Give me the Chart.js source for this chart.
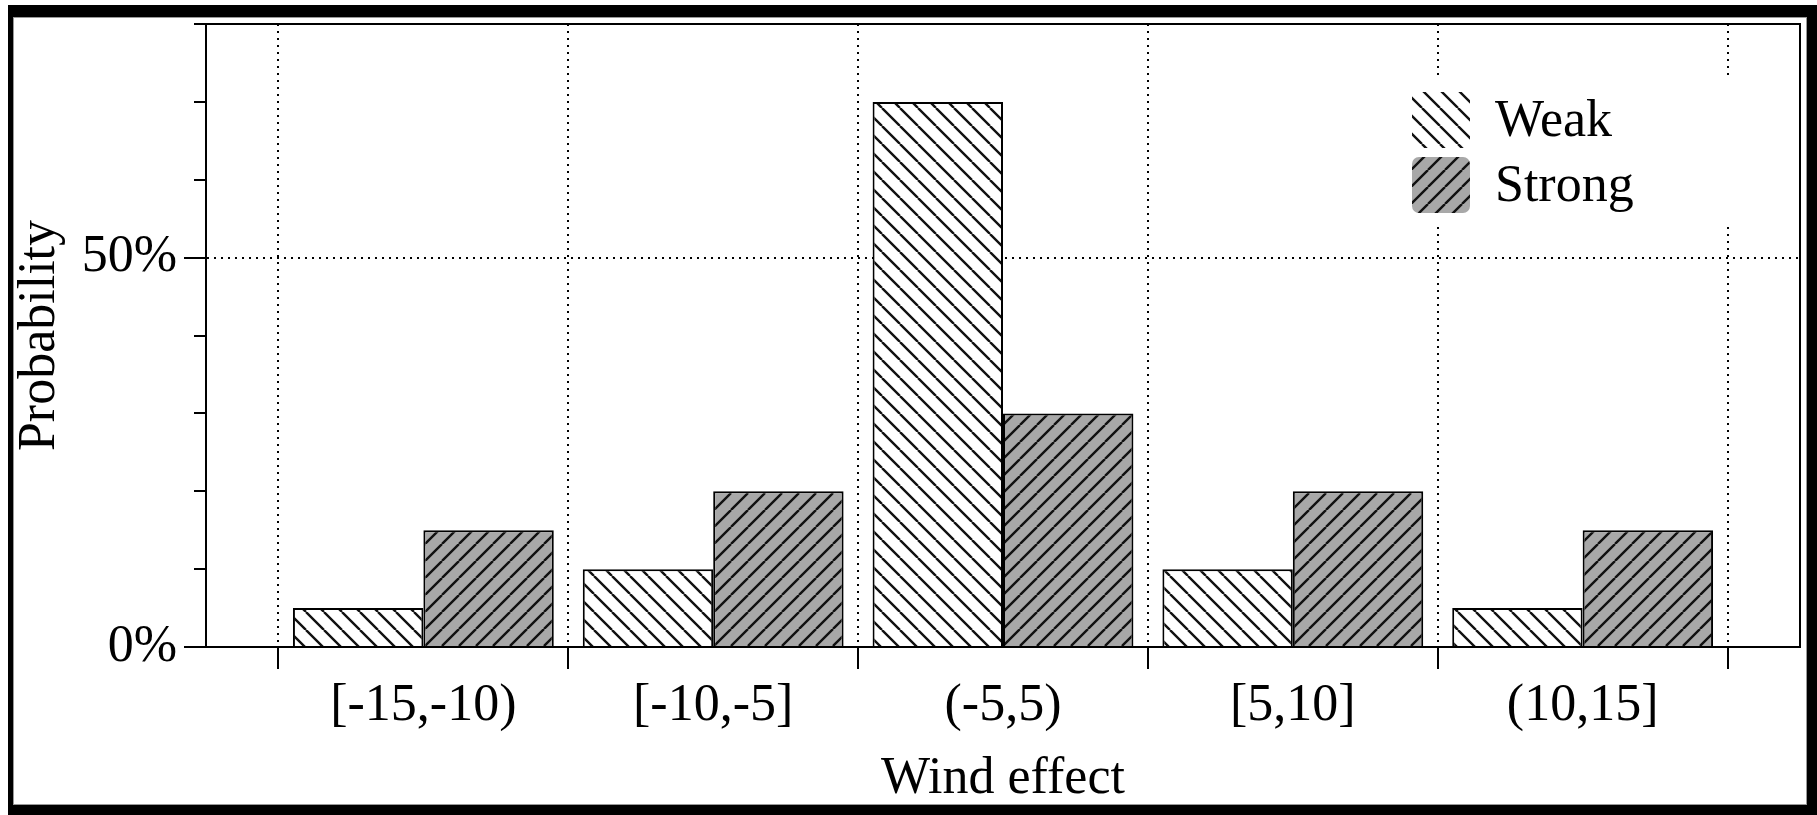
<!DOCTYPE html>
<html>
<head>
<meta charset="utf-8">
<script src="https://cdn.jsdelivr.net/npm/chart.js@4.4.1/dist/chart.umd.min.js"></script>
<style>
  html, body { margin: 0; padding: 0; background: #fff; overflow: hidden; }
  #wrap { position: relative; width: 1817px; height: 815px; }
  #frame {
    position: absolute; left: 8px; top: 5px; width: 1794px; height: 788px;
    border-style: solid; border-color: #000;
    border-width: 12px 10px 10px 5px;
    pointer-events: none;
  }
  #frame > div { position: absolute; inset: 0; border: 1px solid #999; }
</style>
</head>
<body>
<div id="wrap">
  <canvas id="windChart" width="1817" height="815"></canvas>
  <div id="frame"><div></div></div>
</div>
<script>
// chart values
const categories = ["[-15,-10)", "[-10,-5]", "(-5,5)", "[5,10]", "(10,15]"];
const weakValues = [5, 10, 70, 10, 5];
const strongValues = [15, 20, 30, 20, 15];
const seriesNames = ["Weak", "Strong"];
const yLabelled = [0, 50];

const FONT = "'Liberation Serif', 'DejaVu Serif', serif";
Chart.defaults.font.family = FONT;
Chart.defaults.font.size = 52;
Chart.defaults.color = "#000";

// diagonal hatch patterns
function makeHatch(bg, size, dir) {
    let c = document.createElement("canvas");
    c.width = size; c.height = size;
    let g = c.getContext("2d");
    g.fillStyle = bg;
    g.fillRect(0, 0, size, size);
    g.strokeStyle = "#111";
    g.lineWidth = 2.4;
    g.beginPath();
    for (let k = -1; k <= 1; k++) {
        if (dir === "back") {
            g.moveTo(k * size, 0); g.lineTo(k * size + size, size);
        } else {
            g.moveTo(k * size, size); g.lineTo(k * size + size, 0);
        }
    }
    g.stroke();
    return g.createPattern(c, "repeat");
}

const ctx = document.getElementById("windChart").getContext("2d");
const weakFill = makeHatch("#ffffff", 18, "back");
const strongFill = makeHatch("#a8a8a8", 17, "fwd");

const toPoints = vals => vals.map((v, i) => ({ x: i, y: v }));

// legend drawn inside the plot, over a white box
const insideLegend = {
    id: "insideLegend",
    afterDraw(chart) {
        const { ctx, chartArea } = chart;
        const sw = 58, sh = 56;
        const x0 = chartArea.right - 388;
        const y0 = chartArea.top + 68;
        ctx.save();
        ctx.fillStyle = "#fff";
        ctx.fillRect(chartArea.right - 400, chartArea.top + 51, 360, 151);
        chart.data.datasets.forEach((ds, i) => {
            let y = y0 + i * 65;
            ctx.fillStyle = ds.backgroundColor;
            ctx.beginPath();
            if (i === 1 && ctx.roundRect) ctx.roundRect(x0, y, sw, sh, 7);
            else ctx.rect(x0, y, sw, sh);
            ctx.fill();
            ctx.fillStyle = "#000";
            ctx.font = "52px " + FONT;
            ctx.textBaseline = "middle";
            ctx.textAlign = "left";
            ctx.fillText(ds.label, x0 + 83, y + sh / 2 + 2);
        });
        ctx.restore();
    }
};

new Chart(ctx, {
    type: "bar",
    data: {
        datasets: [{
            label: seriesNames[0],
            data: toPoints(weakValues),
            backgroundColor: weakFill,
            borderColor: "#000",
            borderWidth: 2
        }, {
            label: seriesNames[1],
            data: toPoints(strongValues),
            backgroundColor: strongFill,
            borderColor: "#000",
            borderWidth: 2
        }]
    },
    options: {
        responsive: false,
        animation: false,
        layout: { padding: { top: 24, right: 17, left: 0, bottom: 0 } },
        datasets: { bar: { categoryPercentage: 0.9, barPercentage: 1.0 } },
        plugins: {
            legend: { display: false },
            tooltip: { enabled: false }
        },
        scales: {
            x: {
                type: "linear",
                position: "bottom",
                min: -0.75,
                max: 4.75,
                offset: false,
                afterBuildTicks: scale => {
                    scale.ticks = categories.map((c, i) => ({ value: i }));
                },
                afterFit: scale => {
                    scale.height = 168;
                    scale.paddingLeft = 0;
                    scale.paddingRight = 0;
                },
                ticks: {
                    autoSkip: false,
                    maxRotation: 0,
                    padding: 6,
                    callback: v => categories[Math.round(v)]
                },
                grid: {
                    offset: true,
                    color: "#000",
                    lineWidth: 2,
                    tickLength: 22,
                    tickWidth: 2,
                    tickColor: "#000"
                },
                border: { color: "#000", width: 2, dash: [2, 5] },
                title: {
                    display: true,
                    text: "Wind effect",
                    padding: { top: 0, bottom: 4 }
                }
            },
            xTop: {
                type: "linear",
                position: "top",
                min: -0.75,
                max: 4.75,
                offset: false,
                ticks: { display: false },
                grid: { drawOnChartArea: false, drawTicks: false },
                border: { color: "#000", width: 2 }
            },
            y: {
                min: 0,
                max: 80,
                afterFit: scale => {
                    scale.width = 206;
                    scale.paddingTop = 0;
                    scale.paddingBottom = 0;
                },
                ticks: {
                    stepSize: 10,
                    padding: 7,
                    callback: v => yLabelled.includes(v) ? v + "%" : ""
                },
                grid: {
                    color: c => c.tick && c.tick.value === 50 ? "#000" : "rgba(0,0,0,0)",
                    lineWidth: 2,
                    tickLength: 22,
                    tickWidth: 2,
                    tickColor: "#000",
                    // unlabelled ticks are shorter: hide the outer part with a dash
                    tickBorderDash: c => c.tick && yLabelled.includes(c.tick.value) ? [] : [12, 200],
                    tickBorderDashOffset: c => c.tick && yLabelled.includes(c.tick.value) ? 0 : -10
                },
                border: { color: "#000", width: 2, dash: [2, 5] },
                title: {
                    display: true,
                    text: "Probability",
                    padding: { top: 9, bottom: 0 }
                }
            },
            yRight: {
                position: "right",
                min: 0,
                max: 80,
                ticks: { display: false },
                grid: { drawOnChartArea: false, drawTicks: false },
                border: { color: "#000", width: 2 }
            }
        }
    },
    plugins: [insideLegend]
});
</script>
</body>
</html>
